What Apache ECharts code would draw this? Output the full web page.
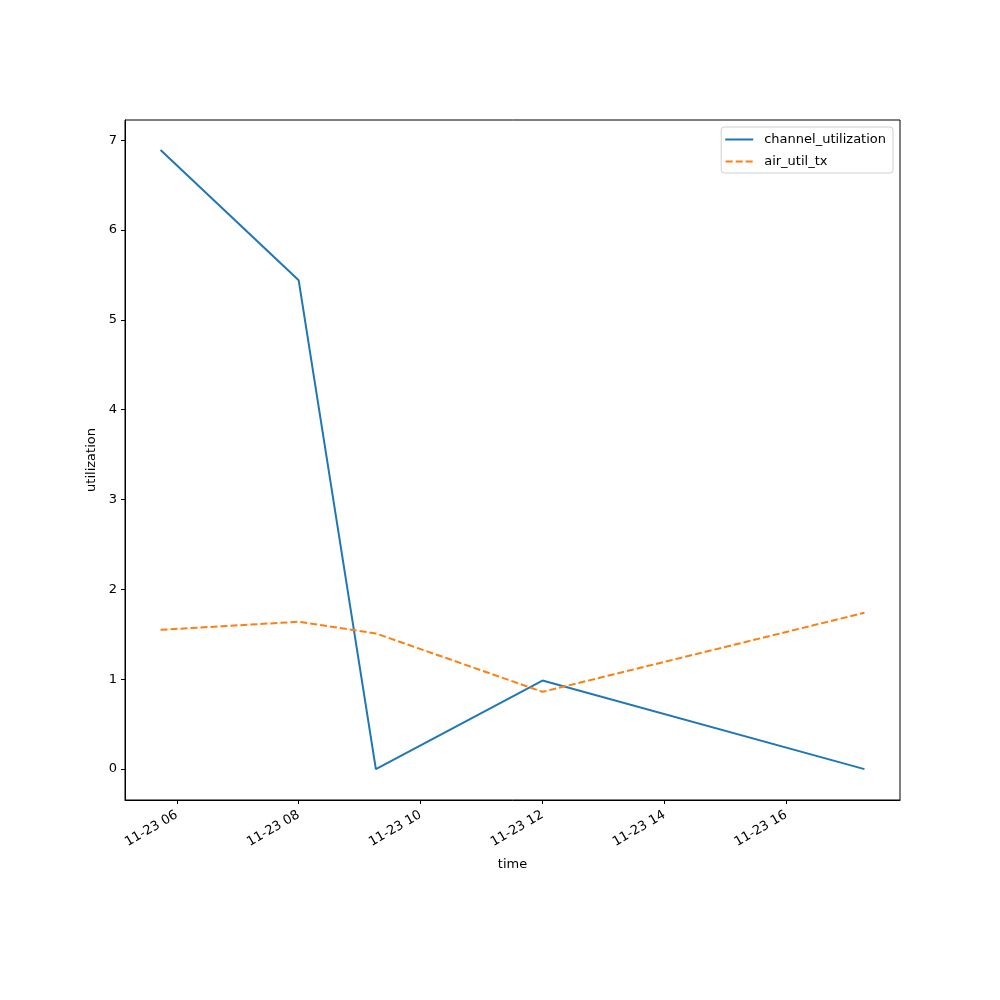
<!DOCTYPE html>
<html><head><meta charset="utf-8">
<script src="https://cdn.jsdelivr.net/npm/echarts@6/dist/echarts.min.js"></script>
<style>html,body{margin:0;padding:0;background:#fff}#c{width:1000px;height:1000px}</style>
</head><body><div id="c"></div>
<script>
// times as [hour, minute] on 11-23
const dateLabel = '11-23';
const times = [[5,44],[8,0],[9,16],[12,0],[17,17]];
const channelUtilization = [6.89, 5.44, 0.0, 0.985, 0.0];
const airUtilTx = [1.55, 1.64, 1.51, 0.86, 1.74];
const xTickHours = [6, 8, 10, 12, 14, 16];
const yTicks = [0, 1, 2, 3, 4, 5, 6, 7];
const xRange = [[5,9],[17,52]];
const yRange = [-0.344, 7.224];

const hrs = (h, m) => h + m / 60;
const xs = times.map(t => hrs(t[0], t[1]));
const pad = n => String(n).padStart(2, '0');
const font = 'DejaVu Sans';

const chart = echarts.init(document.getElementById('c'), null, {renderer: 'canvas'});
chart.setOption({
  animation: false,
  grid: {left: 125, right: 100, top: 120, bottom: 200, show: true, borderColor: '#000', borderWidth: 1},
  legend: {
    orient: 'vertical', right: 107, top: 127,
    data: [
      {name: 'channel_utilization', icon: 'path://M0,0h28v2h-28z'},
      {name: 'air_util_tx', icon: 'path://M0,0h7v2h-7zM10,0h7v2h-7zM20,0h7v2h-7z'}
    ],
    itemWidth: 28, itemHeight: 2, itemGap: 9,
    padding: [6, 7, 5, 4],
    borderColor: '#d0d0d0', borderWidth: 1, borderRadius: 3,
    textStyle: {fontFamily: font, fontSize: 13, color: '#000', padding: [0, 0, 0, 6]}
  },
  xAxis: {
    type: 'value',
    min: hrs(xRange[0][0], xRange[0][1]), max: hrs(xRange[1][0], xRange[1][1]),
    name: 'time', nameLocation: 'middle', nameGap: 58,
    nameTextStyle: {fontFamily: font, fontSize: 13, color: '#000'},
    axisLine: {show: true, onZero: false, lineStyle: {color: '#000'}},
    axisTick: {show: true, customValues: xTickHours, length: 4, lineStyle: {color: '#000'}},
    axisLabel: {
      customValues: xTickHours, rotate: 30, margin: 14,
      fontFamily: font, fontSize: 13, color: '#000',
      formatter: v => dateLabel + ' ' + pad(Math.round(v))
    },
    splitLine: {show: false}
  },
  yAxis: {
    type: 'value', min: yRange[0], max: yRange[1],
    name: 'utilization', nameLocation: 'middle', nameGap: 25, nameRotate: 90,
    nameTextStyle: {fontFamily: font, fontSize: 13, color: '#000'},
    axisLine: {show: true, onZero: false, lineStyle: {color: '#000'}},
    axisTick: {show: true, customValues: yTicks, length: 4, lineStyle: {color: '#000'}},
    axisLabel: {customValues: yTicks, margin: 8, fontFamily: font, fontSize: 13, color: '#000', formatter: v => String(Math.round(v))},
    splitLine: {show: false}
  },
  series: [
    {name: 'channel_utilization', type: 'line', symbol: 'none', color: '#1f77b4',
     lineStyle: {width: 2, color: '#1f77b4'},
     data: xs.map((x, i) => [x, channelUtilization[i]])},
    {name: 'air_util_tx', type: 'line', symbol: 'none', color: '#ff7f0e',
     lineStyle: {width: 2, color: '#ff7f0e', type: [7, 3]},
     data: xs.map((x, i) => [x, airUtilTx[i]])}
  ]
});
</script></body></html>
